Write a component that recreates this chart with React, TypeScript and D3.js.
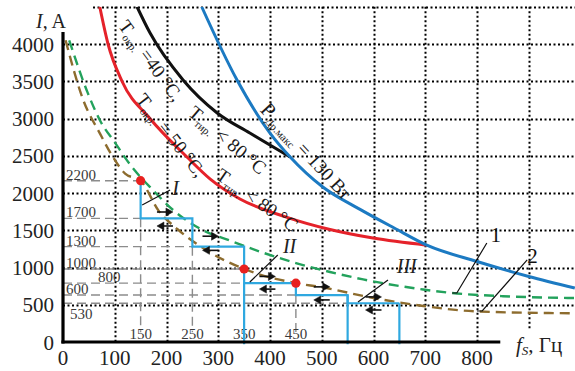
import * as d3 from "d3";

type Pt = [number, number];

// axes
const fTicks = [0, 100, 200, 300, 400, 500, 600, 700, 800];
const iTicks = [0, 500, 1000, 1500, 2000, 2500, 3000, 3500, 4000];
const gridF = [100, 200, 300, 400, 500, 600, 700, 800, 900];
const gridI = [500, 1000, 1500, 2000, 2500, 3000, 3500, 4000, 4500];

// limit curves (f, Hz ; I, A)
const curveT40: Pt[] = [[143, 4500], [168, 4150], [232, 3517], [298, 3074], [361, 2805], [439, 2483]];
const curveT50: Pt[] = [
  [71, 4500], [87, 4000], [114, 3500], [168, 3000], [240, 2480], [284, 2190],
  [342, 1920], [430, 1680], [516, 1510], [599, 1395], [703, 1300],
];
const curvePmax: Pt[] = [
  [268, 4500], [336, 3520], [400, 2805], [439, 2483], [502, 2080], [574, 1780],
  [640, 1530], [703, 1300], [800, 1080], [900, 880], [989, 725],
];
const curve1: Pt[] = [
  [12, 4050], [48, 3340], [71, 2980], [100, 2680], [132, 2360], [175, 2030], [213, 1770],
  [268, 1510], [323, 1360], [386, 1200], [450, 1060], [516, 940], [580, 840], [696, 705],
  [748, 660], [850, 615], [989, 590],
];
const curve2: Pt[] = [
  [5, 4050], [39, 3250], [72, 2790], [95, 2500], [120, 2260], [150, 2165], [185, 1760],
  [222, 1510], [280, 1220], [350, 980], [450, 790], [500, 735], [600, 590], [700, 480],
  [800, 410], [989, 385],
];

// stepped current limit
const stepF = [150, 150, 250, 250, 350, 350, 450, 450, 550, 550, 650];
const stepI = [2165, 1660, 1660, 1280, 1280, 790, 790, 630, 630, 520, 520];
const dropF = [350, 550, 650];
const dropI = [790, 630, 520];

const levelI = [2165, 1660, 1280, 980, 790, 630, 520];
const levelText = ["2200", "1700", "1300", "1000", "800", "600", "530"];
const levelEndF = [150, 150, 250, 350, 350, 450, 550];

const freqMarks = [150, 250, 350, 450];
const guideF = [150, 250, 450];
const guideI = [1660, 1280, 630];

const markF = [150, 350, 450];
const markI = [2165, 980, 790];

const arrowF = [197, 285, 395, 500, 600];
const arrowUpI = [1745, 1420, 880, 740, 605];
const arrowDownI = [1557, 1230, 710, 565, 430];

const romanText = ["I", "II", "III"];
const romanF = [211, 425, 645];
const romanI = [1973, 1195, 926];
const romanLead: [Pt, Pt][] = [
  [[153, 1839], [207, 2040]],
  [[361, 805], [415, 1168]],
  [[570, 537], [628, 832]],
];

const FONT = "'Liberation Serif', 'DejaVu Serif', serif";

export default function App() {
  const x = d3.scaleLinear().domain([0, 800]).range([63, 477]);
  const y = d3.scaleLinear().domain([0, 4000]).range([342, 44]);
  const smooth = d3.line<Pt>().x((d) => x(d[0])).y((d) => y(d[1])).curve(d3.curveMonotoneX);
  const poly = d3.line<Pt>().x((d) => x(d[0])).y((d) => y(d[1]));
  const steps: Pt[] = stepF.map((f, i) => [f, stepI[i]]);

  const lbl = (f: number, i: number, a: number) => `translate(${x(f)},${y(i)}) rotate(${a})`;
  const r = (v: number) => Math.round(v) + 0.5;

  return (
    <svg width={575} height={371} style={{ position: "absolute", left: 0, top: 0, background: "#fff" }} fontFamily={FONT}>
      <defs>
        <clipPath id="plot">
          <rect x={x(0)} y={y(4500)} width={575 - x(0)} height={y(0) - y(4500)} />
        </clipPath>
      </defs>

      {/* grid */}
      <g>
        {gridI.map((v) => (
          <path
            key={"h" + v}
            d={`M${v === 4500 ? x(58) : x(0)},${r(y(v))}H575`}
            stroke="#000"
            strokeWidth={2}
            strokeDasharray="2 2.5"
            fill="none"
          />
        ))}
        {gridF.map((v) => (
          <path
            key={"v" + v}
            d={`M${r(x(v))},${y(4500)}V${v === 900 ? y(170) : y(0)}`}
            stroke="#000"
            strokeWidth={2}
            strokeDasharray="2 2.5"
            fill="none"
          />
        ))}
      </g>

      {/* gray reference levels */}
      <g stroke="#8c8c8c" strokeWidth={1.4} strokeDasharray="9 5" fill="none">
        {levelI.map((v, k) => (
          <line key={"l" + k} x1={x(0)} x2={x(levelEndF[k])} y1={y(v)} y2={y(v)} />
        ))}
        {guideF.map((f, k) => (
          <line key={"g" + k} x1={x(f)} x2={x(f)} y1={y(guideI[k])} y2={y(130)} />
        ))}
      </g>
      <g fill="#3a3a3a" fontSize={15}>
        {levelText.map((t, k) => (
          <text key={t} x={t === "800" ? 98 : t === "530" ? 70 : 66} y={t === "530" ? y(levelI[k]) + 16 : y(levelI[k]) - 1}>
            {t}
          </text>
        ))}
        {freqMarks.map((f) => (
          <text key={f} x={x(f)} y={339} textAnchor="middle">{f}</text>
        ))}
      </g>

      <g clipPath="url(#plot)" fill="none">
        <path d={smooth(curve1) ?? ""} stroke="#23a25c" strokeWidth={2.4} strokeDasharray="10 6" />
        <path d={smooth(curve2) ?? ""} stroke="#8d6c2e" strokeWidth={2.4} strokeDasharray="10 6" />
        <path d={smooth(curveT50) ?? ""} stroke="#e5222a" strokeWidth={3} />
        <path d={smooth(curveT40) ?? ""} stroke="#111" strokeWidth={3} />
        <path d={smooth(curvePmax) ?? ""} stroke="#1c7ac2" strokeWidth={3} />
      </g>

      {/* step limit */}
      <g stroke="#2fa8e0" strokeWidth={2.2} fill="none">
        <path d={poly(steps) ?? ""} />
        {dropF.map((f, k) => (
          <line key={f} x1={x(f)} x2={x(f)} y1={y(dropI[k])} y2={y(-30)} />
        ))}
      </g>

      {markF.map((f, k) => (
        <circle key={f} cx={x(f)} cy={y(markI[k])} r={4.6} fill="#e8211f" />
      ))}

      {/* arrows */}
      <g fill="#111" stroke="#111" strokeWidth={1.6}>
        {arrowF.map((f, k) => {
          const cx = x(f);
          const yu = y(arrowUpI[k]);
          const yd = y(arrowDownI[k]);
          return (
            <g key={f}>
              <line x1={cx - 8} x2={cx + 2} y1={yu} y2={yu} />
              <path d={`M${cx + 1},${yu - 4}L${cx + 8},${yu}L${cx + 1},${yu + 4}Z`} strokeWidth={0.5} />
              <line x1={cx + 8} x2={cx - 2} y1={yd} y2={yd} />
              <path d={`M${cx - 1},${yd - 4}L${cx - 8},${yd}L${cx - 1},${yd + 4}Z`} strokeWidth={0.5} />
            </g>
          );
        })}
      </g>

      {/* leaders */}
      <g stroke="#111" strokeWidth={1.2} fill="none">
        {romanLead.map((p, k) => (
          <path key={k} d={poly(p) ?? ""} />
        ))}
        <path d={poly([[752, 658], [761, 658], [819, 1329]]) ?? ""} />
        <path d={poly([[800, 416], [810, 416], [897, 1101]]) ?? ""} />
      </g>
      <g fontStyle="italic" fontSize={20} fill="#222">
        {romanText.map((t, k) => (
          <text key={t} x={x(romanF[k])} y={y(romanI[k])}>{t}</text>
        ))}
      </g>
      <g fontSize={21} fill="#111">
        <text x={x(826)} y={y(1342)}>1</text>
        <text x={x(897)} y={y(1060)}>2</text>
      </g>

      {/* curve captions */}
      <g fontSize={19} fill="#1a1a1a">
        <text transform={lbl(106, 4240, 54)}>
          T<tspan fontSize={11} dy={4}>окр.</tspan>
          <tspan dy={-4}> =40 °C,</tspan>
        </text>
        <text transform={lbl(240, 3055, 40)}>
          T<tspan fontSize={11} dy={4}>тир.</tspan>
          <tspan dy={-4}> &lt; 80 °C</tspan>
        </text>
        <text transform={lbl(139.5, 3251, 52)}>
          T<tspan fontSize={11} dy={4}>окр.</tspan>
          <tspan dy={-4}> = 50 °C,</tspan>
        </text>
        <text transform={lbl(293, 2201, 35)}>
          T<tspan fontSize={11} dy={4}>тир.</tspan>
          <tspan dy={-4}> &lt; 80 °C</tspan>
        </text>
        <text transform={lbl(379, 3109, 47)}>
          <tspan fontSize={21}>P</tspan>
          <tspan fontSize={11} dy={4}>Др.макс</tspan>
          <tspan dy={-4}> = 130 Вт</tspan>
        </text>
      </g>

      {/* axes */}
      <g stroke="#000" strokeWidth={3.2}>
        <line x1={x(0)} x2={x(0)} y1={y(4160)} y2={y(0) + 1.6} />
        <line x1={x(0) - 1.6} x2={x(845)} y1={y(0)} y2={y(0)} />
      </g>
      <g fontSize={21} fill="#222">
        {iTicks.map((v) => (
          <text key={v} x={54} y={y(v) + 7.5} textAnchor="end">{v}</text>
        ))}
        {fTicks.map((v) => (
          <text key={v} x={x(v)} y={365} textAnchor="middle">{v}</text>
        ))}
      </g>
      <text x={36} y={28} fontSize={20} fill="#222">
        <tspan fontStyle="italic">I</tspan>, A
      </text>
      <text x={516} y={352} fontSize={21} fill="#222">
        <tspan fontStyle="italic">f</tspan>
        <tspan fontStyle="italic" fontSize={13} dy={3}>S</tspan>
        <tspan dy={-3}>, Гц</tspan>
      </text>
    </svg>
  );
}
